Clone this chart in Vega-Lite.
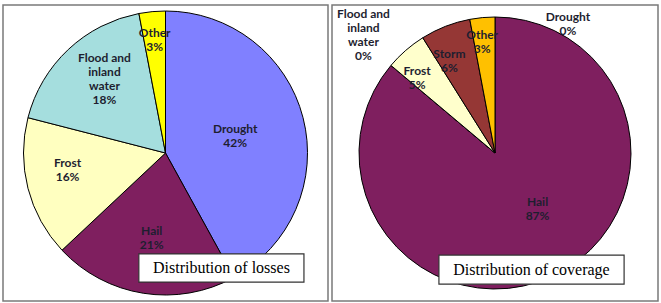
{
  "$schema": "https://vega.github.io/schema/vega-lite/v6.json",
  "background": "white",
  "padding": {"left": 2, "top": 4, "right": 0, "bottom": 0},
  "spacing": 2,
  "resolve": {"scale": {"color": "independent", "theta": "independent"}},
  "datasets": {
    "losses": [
      {"cause": "Drought", "share": 42},
      {"cause": "Hail", "share": 21},
      {"cause": "Frost", "share": 16},
      {"cause": "Flood and inland water", "share": 18},
      {"cause": "Other", "share": 3}
    ],
    "coverage": [
      {"cause": "Drought", "share": 0},
      {"cause": "Hail", "share": 87},
      {"cause": "Flood and inland water", "share": 0},
      {"cause": "Frost", "share": 5},
      {"cause": "Storm", "share": 6},
      {"cause": "Other", "share": 3}
    ],
    "captionLosses": [{"caption": "Distribution of losses"}],
    "captionCoverage": [{"caption": "Distribution of coverage"}]
  },
  "hconcat": [
    {
      "width": 325,
      "height": 296,
      "layer": [
        {
          "data": {"name": "losses"},
          "transform": [
            {"window": [{"op": "row_number", "as": "idx"}]},
            {"calculate": "(datum.cause === 'Flood and inland water' ? 'Flood and\\ninland\\nwater' : datum.cause) + '\\n' + datum.share + '%'", "as": "label"}
          ],
          "encoding": {
            "theta": {"field": "share", "type": "quantitative", "stack": true},
            "order": {"field": "idx", "type": "quantitative"}
          },
          "layer": [
            {
              "mark": {"type": "arc", "outerRadius": 142, "stroke": "black", "strokeWidth": 1},
              "encoding": {
                "color": {
                  "field": "cause", "type": "nominal", "legend": null,
                  "scale": {
                    "domain": ["Drought", "Hail", "Frost", "Flood and inland water", "Other"],
                    "range": ["#8080FF", "#7F1F5F", "#FFFFC0", "#A5DEDE", "#FFFF00"]
                  }
                }
              }
            },
            {
              "mark": {
                "type": "text", "font": "Lato", "fontWeight": "bold", "fontSize": 12, "lineHeight": 14, "lineBreak": "\n",
                "color": "#1e1e30", "align": "center", "baseline": "middle",
                "radius": {"expr": "datum.cause === 'Drought' ? 72 : datum.cause === 'Hail' ? 88 : datum.cause === 'Frost' ? 98 : datum.cause === 'Other' ? 115 : 95"},
                "dx": {"expr": "datum.cause === 'Frost' ? -3 : datum.cause === 'Flood and inland water' ? 4 : 0"},
                "dy": {"expr": "datum.cause === 'Drought' ? -6 : datum.cause === 'Hail' ? -9 : datum.cause === 'Frost' ? -14 : datum.cause === 'Flood and inland water' ? -26 : -6"}
              },
              "encoding": {
                "detail": {"field": "cause", "type": "nominal"},
                "text": {"field": "label", "type": "nominal"}
              }
            }
          ]
        },
        {
          "data": {"name": "captionLosses"},
          "layer": [
            {
              "mark": {"type": "rect", "fill": "white", "stroke": "#333333", "strokeWidth": 1.2},
              "encoding": {
                "x": {"datum": 0.418, "type": "quantitative", "scale": {"domain": [0, 1]}, "axis": null},
                "x2": {"datum": 0.926},
                "y": {"datum": 0.841, "type": "quantitative", "scale": {"domain": [0, 1], "reverse": true}, "axis": null},
                "y2": {"datum": 0.936}
              }
            },
            {
              "mark": {"type": "text", "font": "Liberation Serif", "fontSize": 16, "color": "black", "align": "center", "baseline": "middle"},
              "encoding": {
                "x": {"datum": 0.672, "type": "quantitative"},
                "y": {"datum": 0.89, "type": "quantitative"},
                "text": {"field": "caption", "type": "nominal"}
              }
            }
          ]
        }
      ]
    },
    {
      "width": 326,
      "height": 296,
      "layer": [
        {
          "data": {"name": "coverage"},
          "transform": [
            {"window": [{"op": "row_number", "as": "idx"}]},
            {"calculate": "(datum.cause === 'Flood and inland water' ? 'Flood and\\ninland\\nwater' : datum.cause) + '\\n' + datum.share + '%'", "as": "label"}
          ],
          "encoding": {
            "theta": {"field": "share", "type": "quantitative", "stack": true},
            "order": {"field": "idx", "type": "quantitative"}
          },
          "layer": [
            {
              "mark": {"type": "arc", "outerRadius": 136, "stroke": "black", "strokeWidth": 1},
              "encoding": {
                "color": {
                  "field": "cause", "type": "nominal", "legend": null,
                  "scale": {
                    "domain": ["Drought", "Hail", "Flood and inland water", "Frost", "Storm", "Other"],
                    "range": ["#8080FF", "#7F1F5F", "#A5DEDE", "#FFFFCC", "#953735", "#FFC000"]
                  }
                }
              }
            },
            {
              "transform": [{"filter": "datum.cause !== 'Drought'"}],
              "mark": {
                "type": "text", "font": "Lato", "fontWeight": "bold", "fontSize": 12, "lineHeight": 14, "lineBreak": "\n",
                "color": "#1e1e30", "align": "center", "baseline": "middle",
                "radius": {"expr": "datum.cause === 'Hail' ? 70 : datum.cause === 'Flood and inland water' ? 172 : datum.cause === 'Frost' ? 108 : datum.cause === 'Storm' ? 103 : 116"},
                "dx": {"expr": "datum.cause === 'Hail' ? 13 : datum.cause === 'Frost' ? -7 : datum.cause === 'Storm' ? -8 : datum.cause === 'Other' ? -2 : 0"},
                "dy": {"expr": "datum.cause === 'Hail' ? -14 : datum.cause === 'Flood and inland water' ? -28 : datum.cause === 'Frost' ? 0 : -3"}
              },
              "encoding": {
                "detail": {"field": "cause", "type": "nominal"},
                "text": {"field": "label", "type": "nominal"}
              }
            },
            {
              "transform": [{"filter": "datum.cause === 'Drought'"}],
              "mark": {
                "type": "text", "font": "Lato", "fontWeight": "bold", "fontSize": 12, "lineHeight": 14, "lineBreak": "\n",
                "color": "#1e1e30", "align": "center", "baseline": "middle", "dx": 73, "dy": -2, "radius": 134
              },
              "encoding": {
                "detail": {"field": "cause", "type": "nominal"},
                "text": {"field": "label", "type": "nominal"}
              }
            }
          ]
        },
        {
          "data": {"name": "captionCoverage"},
          "layer": [
            {
              "mark": {"type": "rect", "fill": "white", "stroke": "#333333", "strokeWidth": 1.2},
              "encoding": {
                "x": {"datum": 0.328, "type": "quantitative", "scale": {"domain": [0, 1]}, "axis": null},
                "x2": {"datum": 0.896},
                "y": {"datum": 0.845, "type": "quantitative", "scale": {"domain": [0, 1], "reverse": true}, "axis": null},
                "y2": {"datum": 0.943}
              }
            },
            {
              "mark": {"type": "text", "font": "Liberation Serif", "fontSize": 16, "color": "black", "align": "center", "baseline": "middle"},
              "encoding": {
                "x": {"datum": 0.612, "type": "quantitative"},
                "y": {"datum": 0.894, "type": "quantitative"},
                "text": {"field": "caption", "type": "nominal"}
              }
            }
          ]
        }
      ]
    }
  ],
  "config": {
    "view": {"stroke": "#7a7a7a", "strokeWidth": 1.5}
  }
}
